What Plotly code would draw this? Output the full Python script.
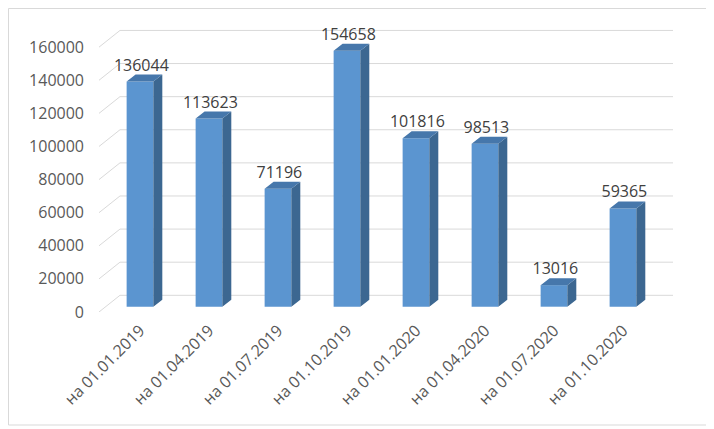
import plotly.graph_objects as go

# data
dates = ['на 01.01.2019', 'на 01.04.2019', 'на 01.07.2019', 'на 01.10.2019',
         'на 01.01.2020', 'на 01.04.2020', 'на 01.07.2020', 'на 01.10.2020']
values = [136044, 113623, 71196, 154658, 101816, 98513, 13016, 59365]
y_ticks = [0, 20000, 40000, 60000, 80000, 100000, 120000, 140000, 160000]

# pseudo-3d geometry (data units)
W = 0.387        # front face width
DX = 0.13        # bar depth, x
DY = 4230        # bar depth, y
BASE = 3200      # front face of bars sits a bit behind the front plane
WALL_DX = 0.304  # back wall offset
WALL_DY = 10090
X_MIN, X_MAX = -0.594, 7.725
Y_MAX = 176400

FRONT = '#5b95d0'
SIDE = '#3c6791'
TOP = '#4677ab'
GRID = '#d9d9d9'

# page body has an 8px margin, so the figure is 8px smaller each way
FIG_W, FIG_H = 706, 421
M_L, M_R, M_T, M_B = 91, 41, 12, 117
PW, PH = FIG_W - M_L - M_R, FIG_H - M_T - M_B

fig = go.Figure()

# back wall grid + left wall diagonals, kept under the bars
for v in y_ticks:
    fig.add_shape(type='line', x0=X_MIN, y0=v, x1=X_MIN + WALL_DX, y1=v + WALL_DY,
                  line=dict(color=GRID, width=1), layer='below')
    fig.add_shape(type='line', x0=X_MIN + WALL_DX, y0=v + WALL_DY, x1=X_MAX, y1=v + WALL_DY,
                  line=dict(color=GRID, width=1), layer='below')

# front faces
fig.add_trace(go.Bar(x=list(range(len(values))), y=values, base=BASE, width=W,
                     marker=dict(color=FRONT, line=dict(width=0)), hoverinfo='skip'))

# side and top faces
sx, sy, tx, ty = [], [], [], []
for i, v in enumerate(values):
    r = i + W / 2
    l = i - W / 2
    top = BASE + v
    sx += [r, r + DX, r + DX, r, r, None]
    sy += [BASE, BASE + DY, top + DY, top, BASE, None]
    tx += [l, l + DX, r + DX, r, l, None]
    ty += [top, top + DY, top + DY, top, top, None]
fig.add_trace(go.Scatter(x=sx, y=sy, mode='lines', fill='toself', fillcolor=SIDE,
                         line=dict(width=0, color=SIDE), hoverinfo='skip'))
fig.add_trace(go.Scatter(x=tx, y=ty, mode='lines', fill='toself', fillcolor=TOP,
                         line=dict(width=0, color=TOP), hoverinfo='skip'))

# value labels
fig.add_trace(go.Scatter(
    x=[i + 0.02 for i in range(len(values))],
    y=[BASE + v + DY for v in values],
    mode='text', text=[str(v) for v in values], textposition='top center',
    textfont=dict(family='Open Sans', size=16, color='#404040'),
    hoverinfo='skip'))

fig.update_layout(
    width=FIG_W, height=FIG_H,
    margin=dict(l=M_L, r=M_R, t=M_T, b=M_B),
    paper_bgcolor='white', plot_bgcolor='white',
    showlegend=False,
    font=dict(family='Open Sans', size=16, color='#595959'),
    xaxis=dict(range=[X_MIN, X_MAX], tickmode='array',
               tickvals=list(range(len(dates))), ticktext=dates, tickangle=-45,
               showgrid=False, zeroline=False, showline=False,
               ticklabelstandoff=5, automargin=False),
    yaxis=dict(range=[0, Y_MAX], tickmode='array', tickvals=y_ticks,
               ticktext=[str(v) for v in y_ticks],
               showgrid=False, zeroline=False, showline=False,
               ticklabelstandoff=14, automargin=False),
)

# outer chart border
fig.add_shape(type='rect', xref='paper', yref='paper',
              x0=(0.5 - M_L) / PW, x1=(FIG_W - 2 - M_L) / PW,
              y0=-(M_B - 4) / PH, y1=1 + (M_T - 0.5) / PH,
              line=dict(color='#d9d9d9', width=1))

fig.write_html("out.html")
